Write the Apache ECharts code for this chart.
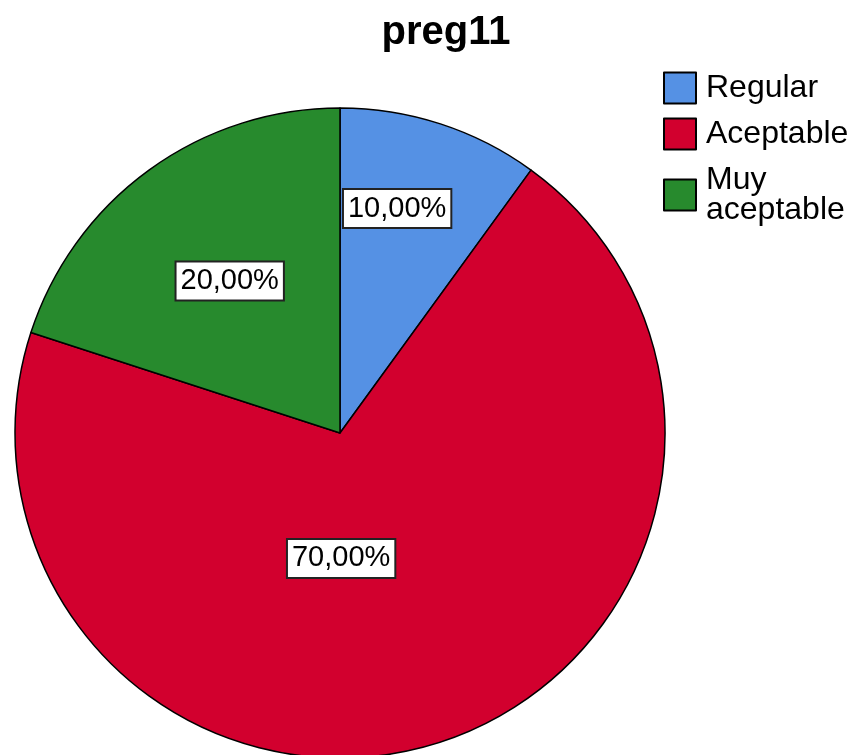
<!DOCTYPE html>
<html>
<head>
<meta charset="utf-8">
<script src="https://cdn.jsdelivr.net/npm/echarts@6/dist/echarts.min.js"></script>
<style>html,body{margin:0;padding:0;background:#fff}#c{width:863px;height:755px}</style>
</head>
<body>
<div id="c"></div>
<script>
var categories = ['Regular', 'Aceptable', 'Muy aceptable'];
var legendLabels = ['Regular', 'Aceptable', 'Muy\naceptable'];
var values = [10, 70, 20];
var colors = ['#5591E4', '#D2002E', '#278A2D'];
var titleText = 'preg11';

var labelShift = [[6, -67], [-50, -32], [-13, -18]];

var chart = echarts.init(document.getElementById('c'), null, {renderer: 'canvas'});
var data = categories.map(function (c, i) {
  return {name: c, value: values[i], itemStyle: {color: colors[i]}};
});
chart.setOption({
  animation: false,
  backgroundColor: '#fff',
  title: {
    text: titleText, left: 441, top: 8, textAlign: 'center',
    textStyle: {fontFamily: 'Liberation Sans, Arial, sans-serif', fontWeight: 'bold', fontSize: 40, color: '#000'}
  },
  legend: {
    orient: 'vertical', left: 663, top: 71, icon: 'rect', padding: 0,
    itemWidth: 32, itemHeight: 31, itemGap: 12,
    itemStyle: {borderColor: '#000', borderWidth: 2},
    formatter: function (n) { return legendLabels[categories.indexOf(n)]; },
    textStyle: {fontFamily: 'Liberation Sans, Arial, sans-serif', fontSize: 32, color: '#000', lineHeight: 30, padding: [4, 0, 0, 5]},
    data: categories
  },
  series: [{
    type: 'pie', center: [340, 433], radius: [0, 325],
    startAngle: 90, clockwise: true, avoidLabelOverlap: false,
    itemStyle: {borderColor: '#000', borderWidth: 1.5},
    label: {
      show: true, position: 'inside',
      formatter: function (p) { return p.value.toFixed(2).replace('.', ',') + '%'; },
      fontFamily: 'Liberation Sans, Arial, sans-serif', fontSize: 29, color: '#000',
      backgroundColor: '#fff', borderColor: '#222', borderWidth: 2, padding: [5, 4, 3, 4]
    },
    labelLayout: function (p) {
      var s = labelShift[p.dataIndex];
      return {dx: s[0], dy: s[1]};
    },
    emphasis: {disabled: true},
    data: data
  }]
});
</script>
</body>
</html>
